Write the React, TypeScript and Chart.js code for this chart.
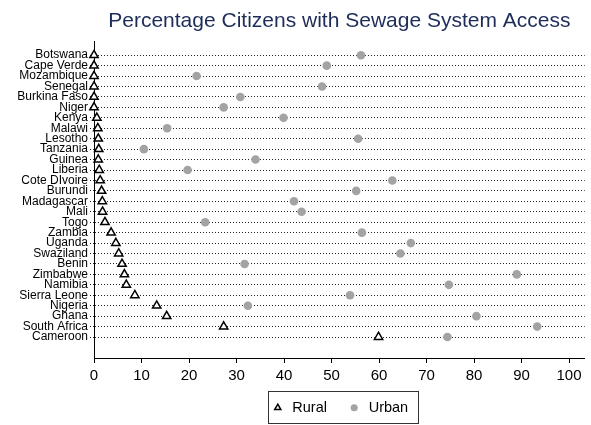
import React, { useEffect, useRef } from 'react';
import { Chart, registerables } from 'chart.js';

Chart.register(...registerables);

const countries = [
  'Botswana', 'Cape Verde', 'Mozambique', 'Senegal', 'Burkina Faso', 'Niger',
  'Kenya', 'Malawi', 'Lesotho', 'Tanzania', 'Guinea', 'Liberia', 'Cote DIvoire',
  'Burundi', 'Madagascar', 'Mali', 'Togo', 'Zambia', 'Uganda', 'Swaziland',
  'Benin', 'Zimbabwe', 'Namibia', 'Sierra Leone', 'Nigeria', 'Ghana',
  'South Africa', 'Cameroon',
];

const rural = [
  0, 0, 0, 0, 0, 0,
  0.6, 0.8, 0.9, 1.0, 0.9, 1.1, 1.3,
  1.6, 1.75, 1.8, 2.3, 3.6, 4.6, 5.2,
  5.9, 6.4, 6.8, 8.6, 13.2, 15.3,
  27.3, 59.9,
];

const urban = [
  56.2, 49.0, 21.6, 48.0, 30.8, 27.3,
  39.9, 15.4, 55.6, 10.5, 34.0, 19.7, 62.8,
  55.2, 42.1, 43.7, 23.4, 56.4, 66.7, 64.5,
  31.7, 89.0, 74.7, 53.9, 32.4, 80.5,
  93.3, 74.4,
];

const xTickValues = [0, 10, 20, 30, 40, 50, 60, 70, 80, 90, 100];

const titleText = 'Percentage Citizens with Sewage System Access';
const seriesNames = ['Rural', 'Urban'];

const FONT = '"Liberation Sans", Arial, Helvetica, sans-serif';

const legendBoxPlugin = {
  id: 'legendBoxBorder',
  afterDraw(chart: any) {
    const lg = chart.legend;
    const hb = lg && lg.legendHitBoxes;
    if (!hb || !hb.length) return;
    const l = Math.min(...hb.map((h: any) => h.left));
    const r = Math.max(...hb.map((h: any) => h.left + h.width));
    const t = Math.min(...hb.map((h: any) => h.top));
    const b = Math.max(...hb.map((h: any) => h.top + h.height));
    const ctx = chart.ctx;
    ctx.save();
    ctx.strokeStyle = '#333';
    ctx.lineWidth = 1;
    const x0 = Math.round(l - 3) + 0.5;
    const x1 = Math.round(r + 10) + 0.5;
    const y0 = Math.round(t - 9.5) + 0.5;
    const y1 = Math.round(b + 8) + 0.5;
    ctx.strokeRect(x0, y0, x1 - x0, y1 - y0);
    ctx.restore();
  },
};

export default function App() {
  const ref = useRef<HTMLCanvasElement>(null);

  useEffect(() => {
    const canvas = ref.current;
    if (!canvas) return;
    const chart = new Chart(canvas, {
      type: 'scatter',
      data: {
        datasets: [
          {
            label: seriesNames[0],
            data: rural.map((v, i) => ({ x: v, y: i })),
            clip: false,
            pointStyle: 'triangle',
            pointRadius: 4.8,
            borderColor: '#000',
            backgroundColor: '#fff',
            pointBorderColor: '#000',
            pointBackgroundColor: '#fff',
            borderWidth: 1.5,
            pointBorderWidth: 1.5,
          },
          {
            label: seriesNames[1],
            data: urban.map((v, i) => ({ x: v, y: i })),
            clip: false,
            pointStyle: 'circle',
            pointRadius: 4.3,
            borderColor: '#a3a3a3',
            backgroundColor: '#a3a3a3',
            pointBorderColor: '#a3a3a3',
            pointBackgroundColor: '#a3a3a3',
            borderWidth: 0,
            pointBorderWidth: 0,
          },
        ],
      },
      options: {
        responsive: false,
        animation: false,
        events: [],
        layout: { padding: { left: 0, right: 5, top: 0, bottom: 0 } },
        plugins: {
          tooltip: { enabled: false },
          title: {
            display: true,
            text: titleText,
            fullSize: false,
            color: '#1e2c5a',
            font: { family: FONT, size: 21, weight: 'normal', lineHeight: 1.2 },
            padding: { top: 9, bottom: 7 },
          },
          legend: {
            display: true,
            position: 'bottom',
            fullSize: false,
            labels: {
              usePointStyle: true,
              boxHeight: 5,
              padding: 20,
              color: '#000',
              font: { family: FONT, size: 14.5 },
            },
          },
        },
        scales: {
          x: {
            type: 'linear',
            min: 0,
            max: 103.3,
            afterFit: (s: any) => { s.height = 22.5; },
            afterBuildTicks: (s: any) => { s.ticks = xTickValues.map((v) => ({ value: v })); },
            ticks: {
              includeBounds: false,
              autoSkip: false,
              maxRotation: 0,
              color: '#000',
              padding: 4,
              font: { family: FONT, size: 15 },
            },
            grid: {
              drawOnChartArea: false,
              drawTicks: true,
              tickLength: 5,
              color: '#000',
              tickColor: '#000',
            },
            border: { display: true, color: '#000', width: 1 },
          },
          y: {
            type: 'linear',
            reverse: true,
            min: -1.34,
            max: 29.01,
            afterFit: (s: any) => { s.width = 94; },
            afterBuildTicks: (s: any) => { s.ticks = countries.map((_, i) => ({ value: i })); },
            ticks: {
              autoSkip: false,
              color: '#000',
              padding: 2,
              font: { family: FONT, size: 12 },
              callback: (v: any) => countries[v as number] ?? '',
            },
            grid: {
              drawOnChartArea: true,
              drawTicks: true,
              tickLength: 4,
              color: '#222',
              tickColor: '#222',
              lineWidth: 1,
              tickBorderDash: [1, 2],
            },
            border: { display: true, color: '#000', width: 1, dash: [1, 2] },
          },
        },
      },
      plugins: [legendBoxPlugin],
    } as any);
    return () => chart.destroy();
  }, []);

  return (
    <div style={{ position: 'absolute', left: 0, top: 0, width: 591, height: 425, background: '#fff' }}>
      <canvas ref={ref} width={591} height={425} style={{ display: 'block' }} />
    </div>
  );
}
